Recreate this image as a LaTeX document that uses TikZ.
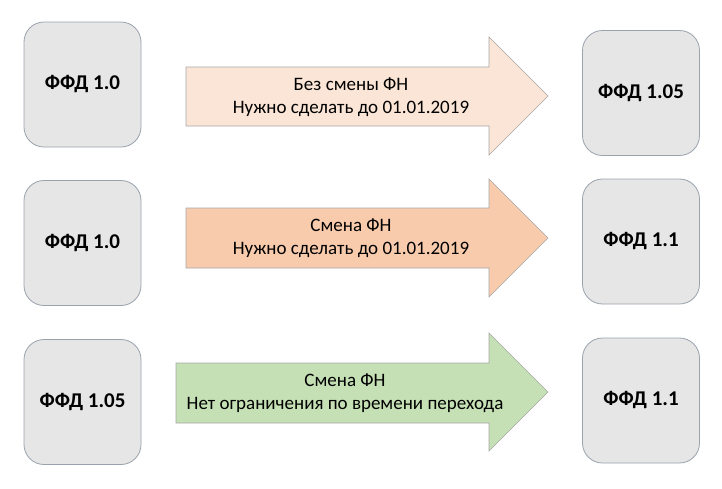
\documentclass[tikz,border=0pt]{standalone}
\usepackage{fontspec}
\setmainfont{Carlito}
\begin{document}
\begin{tikzpicture}[x=1pt,y=-1pt,
  ffdbox/.style={draw=boxline,fill=boxfill,line width=0.8pt,rounded corners=20pt,
    minimum width=117pt,minimum height=125pt,inner sep=0pt,
    font=\fontsize{21}{24}\selectfont\bfseries},
  blockarrow/.style={draw=arrowline,line width=0.6pt},
  arrowtext/.style={align=center,font=\fontsize{19}{22.5}\selectfont,inner sep=0pt}]
\definecolor{boxfill}{HTML}{E7E6E6}
\definecolor{boxline}{HTML}{9AA3AD}
\definecolor{arrowline}{HTML}{A8A8A8}
\definecolor{peachlight}{HTML}{FBE5D6}
\definecolor{peach}{HTML}{F8CBAD}
\definecolor{greenlight}{HTML}{C5E0B4}
\useasboundingbox (0,0) rectangle (722,488);
\fill[white] (0,0) rectangle (722,488);
% left boxes
\node[ffdbox] (l1) at (82.5,84.5) {ФФД 1.0};
\node[ffdbox] (l2) at (82.5,243) {ФФД 1.0};
\node[ffdbox] (l3) at (82.5,402) {ФФД 1.05};
% right boxes
\node[ffdbox] (r1) at (641,93) {ФФД 1.05};
\node[ffdbox] (r2) at (641,241.5) {ФФД 1.1};
\node[ffdbox] (r3) at (641,400.5) {ФФД 1.1};
% arrows
\draw[blockarrow,fill=peachlight] (186,67) -- (489,67) -- (489,37) -- (548,96) -- (489,155) -- (489,126) -- (186,126) -- cycle;
\draw[blockarrow,fill=peach] (186,208) -- (489,208) -- (489,179) -- (548,238) -- (489,297) -- (489,268) -- (186,268) -- cycle;
\draw[blockarrow,fill=greenlight] (176,363) -- (489,363) -- (489,333) -- (548,392) -- (489,451) -- (489,423) -- (176,423) -- cycle;
% arrow texts
\node[arrowtext] (t1) at (351,97) {Без смены ФН\\Нужно сделать до 01.01.2019};
\node[arrowtext] (t2) at (351,238) {Смена ФН\\Нужно сделать до 01.01.2019};
\node[arrowtext] (t3) at (345,393) {Смена ФН\\Нет ограничения по времени перехода};
\end{tikzpicture}
\end{document}
